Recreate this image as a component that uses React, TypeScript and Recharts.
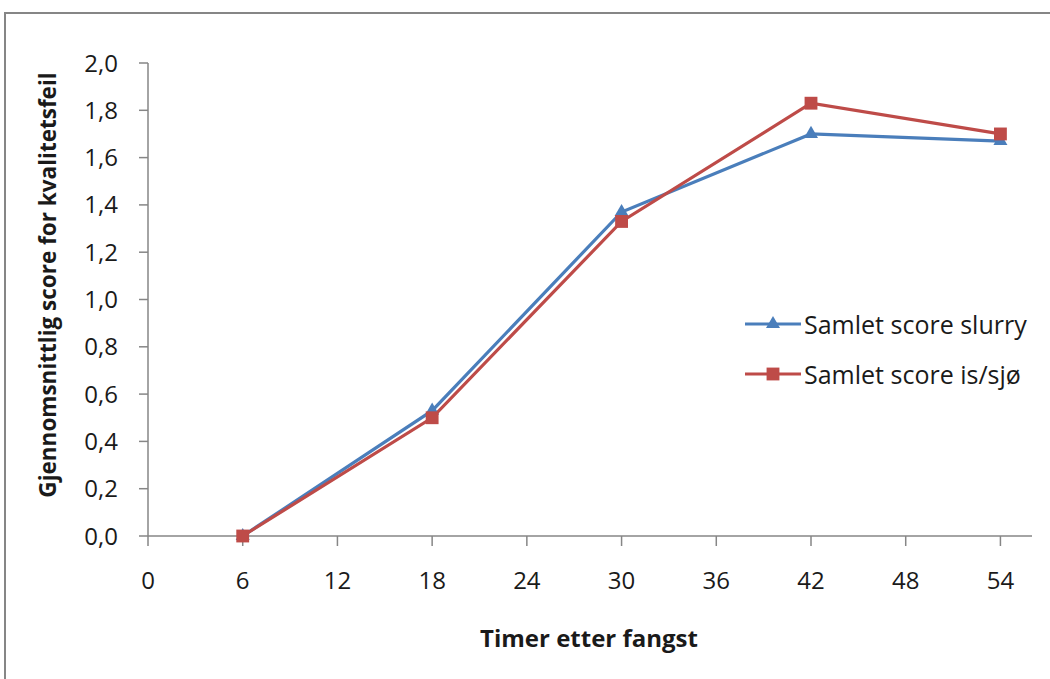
import React from "react";
import { LineChart, Line, XAxis, YAxis, Symbols, Legend } from "recharts";

const hours = [6, 18, 30, 42, 54];
const slurry = [0, 0.53, 1.37, 1.7, 1.67];
const isSjo = [0, 0.5, 1.33, 1.83, 1.7];
const xTicks = [0, 6, 12, 18, 24, 30, 36, 42, 48, 54];
const yTicks = [0, 0.2, 0.4, 0.6, 0.8, 1.0, 1.2, 1.4, 1.6, 1.8, 2.0];

const seriesOrder = ["slurry", "isSjo"];
const seriesNames = { slurry: "Samlet score slurry", isSjo: "Samlet score is/sjø" };

const BLUE = "#4A7EBB";
const RED = "#BE4B48";
const AXIS = "#868686";
const FONT = "'Open Sans', sans-serif";

const data = hours.map((t, i) => ({ t, slurry: slurry[i], isSjo: isSjo[i] }));

const fmt = (v: number) => v.toFixed(1).replace(".", ",");

function TriangleDot(props: any) {
  const { cx, cy } = props;
  if (cx == null || cy == null) return null;
  return <Symbols cx={cx} cy={cy} type="triangle" size={85} fill={BLUE} stroke="none" />;
}

function SquareDot(props: any) {
  const { cx, cy } = props;
  if (cx == null || cy == null) return null;
  return <Symbols cx={cx} cy={cy} type="square" size={165} fill={RED} stroke="none" />;
}

function LegendBox(props: any) {
  const items = [...(props.payload || [])].sort(
    (a: any, b: any) => seriesOrder.indexOf(a.dataKey) - seriesOrder.indexOf(b.dataKey)
  );
  return (
    <div style={{ fontFamily: FONT }}>
      {items.map((it: any, i: number) => (
        <div key={i} style={{ display: "flex", alignItems: "center", height: 50 }}>
          <svg width={58} height={20}>
            <line x1={0} y1={10} x2={56} y2={10} stroke={it.color} strokeWidth={3} />
            <Symbols
              cx={28}
              cy={10}
              type={it.dataKey === "slurry" ? "triangle" : "square"}
              size={it.dataKey === "slurry" ? 85 : 165}
              fill={it.color}
            />
          </svg>
          <span style={{ fontSize: 25, color: "#1a1a1a", marginLeft: 1, whiteSpace: "nowrap" }}>
            {it.value}
          </span>
        </div>
      ))}
    </div>
  );
}

export default function App() {
  return (
    <div
      style={{
        position: "fixed",
        left: 0,
        top: 0,
        width: 1050,
        height: 679,
        overflow: "hidden",
        background: "#fff",
      }}
    >
      <div
        style={{
          position: "absolute",
          left: 4,
          top: 12,
          width: 1100,
          height: 720,
          border: `2px solid ${AXIS}`,
        }}
      />
      <div style={{ position: "absolute", left: 0, top: 0 }}>
        <LineChart
          width={1050}
          height={679}
          data={data}
          margin={{ top: 63, right: 18, bottom: 83, left: 0 }}
        >
          <XAxis
            dataKey="t"
            type="number"
            domain={[0, 56]}
            ticks={xTicks}
            interval={0}
            height={60}
            stroke={AXIS}
            strokeWidth={1.5}
            tickSize={10}
            tickMargin={26}
            tick={{ fill: "#1a1a1a", fontSize: 24, fontFamily: FONT }}
            label={{
              value: "Timer etter fangst",
              content: () => (
                <text
                  x={589}
                  y={647}
                  textAnchor="middle"
                  fontFamily={FONT}
                  fontWeight="bold"
                  fontSize={24}
                  fill="#1a1a1a"
                >
                  Timer etter fangst
                </text>
              ),
            }}
          />
          <YAxis
            type="number"
            domain={[0, 2]}
            ticks={yTicks}
            interval={0}
            width={148}
            stroke={AXIS}
            strokeWidth={1.5}
            tickSize={9}
            tickMargin={21}
            tickFormatter={fmt}
            tick={{ fill: "#1a1a1a", fontSize: 24, fontFamily: FONT }}
            label={{
              value: "Gjennomsnittlig score for kvalitetsfeil",
              content: () => (
                <text
                  x={0}
                  y={0}
                  transform="translate(56,285) rotate(-90)"
                  textAnchor="middle"
                  fontFamily={FONT}
                  fontWeight="bold"
                  fontSize={22.5}
                  fill="#1a1a1a"
                >
                  Gjennomsnittlig score for kvalitetsfeil
                </text>
              ),
            }}
          />
          <Legend
            layout="vertical"
            verticalAlign="middle"
            align="center"
            content={<LegendBox />}
            wrapperStyle={{ left: 745, top: 299, width: 300 }}
          />
          <Line
            dataKey="slurry"
            name={seriesNames.slurry}
            stroke={BLUE}
            strokeWidth={3.2}
            dot={<TriangleDot />}
            activeDot={false}
            isAnimationActive={false}
          />
          <Line
            dataKey="isSjo"
            name={seriesNames.isSjo}
            stroke={RED}
            strokeWidth={3.2}
            dot={<SquareDot />}
            activeDot={false}
            isAnimationActive={false}
          />
        </LineChart>
      </div>
    </div>
  );
}
